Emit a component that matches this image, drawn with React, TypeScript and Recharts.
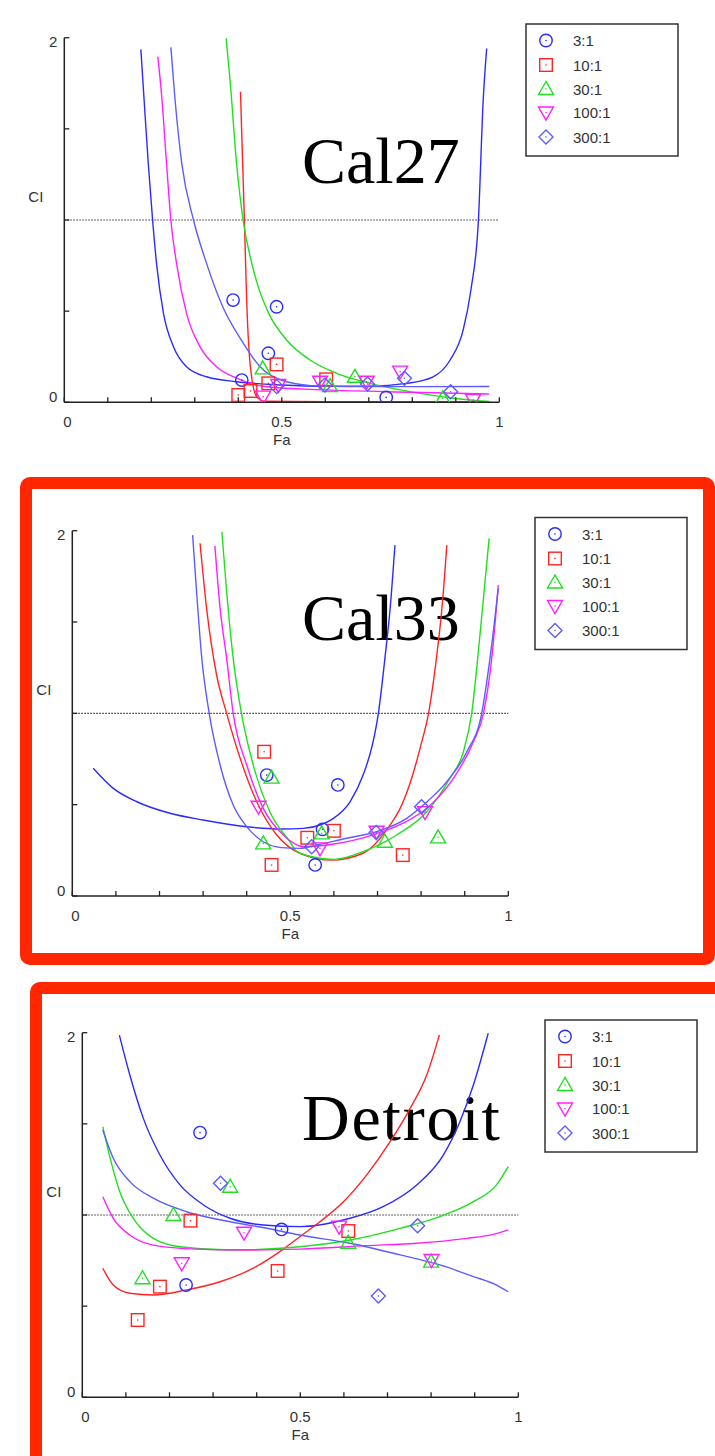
import React from 'react';
import { ComposedChart, Line, Scatter, XAxis, YAxis, ReferenceLine } from 'recharts';

type Pt = { fa: number; ci: number };
const toPts = (a: number[][]): Pt[] => a.map(([fa, ci]) => ({ fa, ci }));

// ---------- legend / series meta ----------
const RATIOS = ['3:1', '10:1', '30:1', '100:1', '300:1'];
const COLORS = ['#2b2bff', '#ff2424', '#1fe01f', '#ff1fff', '#5c5cff'];
const SHAPES = ['circle', 'square', 'triangle', 'triangleDown', 'diamond'];

const X_TICKS = [0, 0.1, 0.2, 0.3, 0.4, 0.5, 0.6, 0.7, 0.8, 0.9, 1];
const X_LABELS = [{ v: 0, t: '0' }, { v: 0.5, t: '0.5' }, { v: 1, t: '1' }];
const Y_TICKS = [0, 0.5, 1, 1.5, 2];
const Y_LABELS = [{ v: 0, t: '0' }, { v: 2, t: '2' }];
const X_TITLE = 'Fa';
const Y_TITLE = 'CI';
const PANEL_NAMES = ['Cal27', 'Cal33', 'Detroit'];

// ---------- Cal27 ----------
const cal27Fit3 = [[0.176,1.936],[0.183,1.676],[0.193,1.311],[0.203,1.0],[0.212,0.762],[0.228,0.488],[0.251,0.305],[0.281,0.195],[0.327,0.14],[0.396,0.113],[0.5,0.095],[0.6,0.088],[0.7,0.089],[0.787,0.104],[0.848,0.14],[0.887,0.232],[0.917,0.397],[0.935,0.62],[0.952,1.0],[0.963,1.658],[0.971,1.941]];
const cal27Fit10 = [[0.405,1.704],[0.41,1.311],[0.414,1.0],[0.419,0.579],[0.427,0.214],[0.442,0.031],[0.46,0.006],[0.6,0.003],[0.977,0.003]];
const cal27Fit30 = [[0.372,1.997],[0.381,1.768],[0.396,1.311],[0.411,1.0],[0.431,0.762],[0.445,0.64],[0.47,0.488],[0.511,0.342],[0.565,0.232],[0.626,0.159],[0.703,0.104],[0.818,0.049],[0.894,0.022],[0.977,0.004]];
const cal27Fit100 = [[0.215,1.896],[0.224,1.676],[0.235,1.311],[0.245,1.0],[0.258,0.762],[0.281,0.488],[0.312,0.305],[0.35,0.195],[0.396,0.132],[0.465,0.085],[0.6,0.068],[0.8,0.055],[0.977,0.045]];
const cal27Fit300 = [[0.245,1.947],[0.254,1.676],[0.27,1.311],[0.297,1.0],[0.327,0.762],[0.365,0.52],[0.41,0.33],[0.45,0.195],[0.511,0.113],[0.588,0.089],[0.7,0.086],[0.8,0.086],[0.977,0.087]];
const cal27Pts3 = [[0.388,0.561],[0.488,0.524],[0.469,0.269],[0.408,0.122],[0.74,0.027]];
const cal27Pts10 = [[0.4,0.04],[0.428,0.062],[0.488,0.208],[0.469,0.104],[0.602,0.126]];
const cal27Pts30 = [[0.456,0.186],[0.611,0.089],[0.668,0.14],[0.87,0.022]];
const cal27Pts100 = [[0.457,0.031],[0.492,0.095],[0.588,0.113],[0.695,0.113],[0.772,0.168],[0.94,0.013]];
const cal27Pts300 = [[0.488,0.086],[0.599,0.095],[0.697,0.1],[0.782,0.132],[0.888,0.058]];

// ---------- Cal33 ----------
const cal33Fit3 = [[0.048,0.699],[0.094,0.589],[0.148,0.516],[0.224,0.453],[0.3,0.416],[0.4,0.379],[0.48,0.367],[0.53,0.37],[0.57,0.39],[0.599,0.425],[0.637,0.516],[0.667,0.662],[0.69,0.845],[0.702,1.0],[0.717,1.301],[0.729,1.575],[0.74,1.921]];
const cal33Fit10 = [[0.293,1.931],[0.308,1.575],[0.331,1.21],[0.354,1.0],[0.385,0.754],[0.423,0.516],[0.469,0.334],[0.522,0.234],[0.595,0.197],[0.667,0.234],[0.729,0.389],[0.75,0.47],[0.775,0.62],[0.8,0.83],[0.817,1.0],[0.835,1.3],[0.848,1.58],[0.859,1.921]];
const cal33Fit30 = [[0.343,1.994],[0.354,1.666],[0.369,1.301],[0.388,1.0],[0.415,0.717],[0.453,0.461],[0.499,0.297],[0.515,0.243],[0.55,0.215],[0.6,0.2],[0.667,0.243],[0.744,0.334],[0.813,0.461],[0.866,0.644],[0.897,0.79],[0.916,1.0],[0.935,1.429],[0.956,1.958]];
const cal33Fit100 = [[0.327,1.917],[0.339,1.575],[0.354,1.301],[0.369,1.0],[0.4,0.717],[0.438,0.48],[0.484,0.334],[0.53,0.27],[0.6,0.285],[0.69,0.335],[0.76,0.4],[0.813,0.48],[0.874,0.644],[0.92,0.845],[0.943,1.0],[0.962,1.301],[0.977,1.702]];
const cal33Fit300 = [[0.276,1.976],[0.285,1.666],[0.297,1.301],[0.314,1.0],[0.339,0.717],[0.369,0.498],[0.4,0.38],[0.438,0.297],[0.48,0.265],[0.522,0.261],[0.553,0.275],[0.629,0.316],[0.698,0.352],[0.767,0.425],[0.805,0.498],[0.859,0.626],[0.905,0.79],[0.939,1.0],[0.958,1.301],[0.977,1.684]];
const cal33Pts3 = [[0.446,0.662],[0.609,0.608],[0.574,0.365],[0.557,0.17]];
const cal33Pts10 = [[0.44,0.79],[0.6,0.357],[0.539,0.319],[0.457,0.17],[0.758,0.224]];
const cal33Pts30 = [[0.457,0.648],[0.438,0.288],[0.572,0.343],[0.717,0.297],[0.839,0.321]];
const cal33Pts100 = [[0.427,0.489],[0.568,0.261],[0.698,0.352],[0.809,0.459]];
const cal33Pts300 = [[0.549,0.27],[0.697,0.348],[0.801,0.489]];

// ---------- Detroit ----------
const detFit3 = [[0.085,1.987],[0.109,1.768],[0.14,1.53],[0.178,1.329],[0.224,1.165],[0.278,1.055],[0.339,0.982],[0.415,0.945],[0.499,0.936],[0.614,0.982],[0.69,1.046],[0.767,1.165],[0.828,1.329],[0.866,1.512],[0.897,1.713],[0.931,1.997]];
const detFit10 = [[0.047,0.708],[0.071,0.616],[0.109,0.571],[0.163,0.561],[0.239,0.589],[0.316,0.634],[0.392,0.708],[0.453,0.799],[0.499,0.881],[0.545,0.963],[0.599,1.073],[0.652,1.219],[0.706,1.402],[0.752,1.585],[0.79,1.768],[0.819,1.987]];
const detFit30 = [[0.047,1.484],[0.064,1.311],[0.086,1.128],[0.117,0.982],[0.163,0.872],[0.224,0.826],[0.339,0.808],[0.499,0.826],[0.614,0.863],[0.729,0.927],[0.82,0.991],[0.897,1.073],[0.95,1.165],[0.977,1.265]];
const detFit100 = [[0.047,1.1],[0.071,0.982],[0.109,0.89],[0.163,0.835],[0.262,0.813],[0.377,0.808],[0.499,0.813],[0.652,0.832],[0.767,0.845],[0.882,0.872],[0.943,0.894],[0.977,0.918]];
const detFit300 = [[0.047,1.466],[0.071,1.311],[0.109,1.183],[0.163,1.092],[0.239,1.018],[0.339,0.963],[0.423,0.927],[0.499,0.89],[0.614,0.845],[0.729,0.781],[0.82,0.726],[0.897,0.662],[0.95,0.616],[0.977,0.579]];
const detPts3 = [[0.27,1.452],[0.457,0.921],[0.238,0.616]];
const detPts10 = [[0.248,0.969],[0.61,0.912],[0.448,0.693],[0.178,0.607],[0.127,0.424]];
const detPts30 = [[0.209,1.0],[0.339,1.155],[0.138,0.653],[0.61,0.848],[0.8,0.744]];
const detPts100 = [[0.371,0.903],[0.228,0.735],[0.589,0.936],[0.801,0.753]];
const detPts300 = [[0.317,1.174],[0.769,0.941],[0.679,0.556]];

// ---------- styling ----------
const AXIS = '#222';
const TXT = '#333';
const SANS = '"Liberation Sans", Arial, sans-serif';
const SERIF = '"Liberation Serif", "Times New Roman", serif';
const FS = 15;
const PAGE_W = 715;
const PAGE_H = 1456;
const RED = '#ff2600';

type Panel = {
  name: string;
  chartTop: number;
  chartHeight: number;
  plot: { left: number; top: number; right: number; bottom: number };
  nameAt: { x: number; y: number; spacing: number };
  legendAt: { left: number; top: number };
  fits: number[][][];
  pts: number[][][];
};

const PANELS: Panel[] = [
  {
    name: PANEL_NAMES[0], chartTop: 0, chartHeight: 470,
    plot: { left: 64.3, top: 37.7, right: 499.3, bottom: 402.3 },
    nameAt: { x: 302, y: 183, spacing: 0 }, legendAt: { left: 526, top: 24 },
    fits: [cal27Fit3, cal27Fit10, cal27Fit30, cal27Fit100, cal27Fit300],
    pts: [cal27Pts3, cal27Pts10, cal27Pts30, cal27Pts100, cal27Pts300],
  },
  {
    name: PANEL_NAMES[1], chartTop: 475, chartHeight: 490,
    plot: { left: 72.3, top: 530.7, right: 508.3, bottom: 896 },
    nameAt: { x: 302, y: 640, spacing: 0 }, legendAt: { left: 535, top: 517.5 },
    fits: [cal33Fit3, cal33Fit10, cal33Fit30, cal33Fit100, cal33Fit300],
    pts: [cal33Pts3, cal33Pts10, cal33Pts30, cal33Pts100, cal33Pts300],
  },
  {
    name: PANEL_NAMES[2], chartTop: 985, chartHeight: 471,
    plot: { left: 82.3, top: 1032.7, right: 518.3, bottom: 1397.3 },
    nameAt: { x: 302, y: 1140, spacing: 1.8 }, legendAt: { left: 545, top: 1020 },
    fits: [detFit3, detFit10, detFit30, detFit100, detFit300],
    pts: [detPts3, detPts10, detPts30, detPts100, detPts300],
  },
];

// ---------- markers ----------
function Marker({ kind, cx, cy, color }: { kind: string; cx: number; cy: number; color: string }) {
  const sw = 1.4;
  const dot = <circle cx={cx} cy={cy} r={0.8} fill={color} />;
  let body: React.ReactNode = null;
  if (kind === 'circle') body = <circle cx={cx} cy={cy} r={6.2} fill="none" stroke={color} strokeWidth={sw} />;
  else if (kind === 'square') body = <rect x={cx - 6.3} y={cy - 6.3} width={12.6} height={12.6} fill="none" stroke={color} strokeWidth={sw} />;
  else if (kind === 'triangle') body = <polygon points={`${cx},${cy - 7.5} ${cx - 7.5},${cy + 5.5} ${cx + 7.5},${cy + 5.5}`} fill="none" stroke={color} strokeWidth={sw} />;
  else if (kind === 'triangleDown') body = <polygon points={`${cx - 7.5},${cy - 5.5} ${cx + 7.5},${cy - 5.5} ${cx},${cy + 7.5}`} fill="none" stroke={color} strokeWidth={sw} />;
  else body = <polygon points={`${cx},${cy - 7} ${cx + 7},${cy} ${cx},${cy + 7} ${cx - 7},${cy}`} fill="none" stroke={color} strokeWidth={sw} />;
  return <g>{body}{dot}</g>;
}

const XTick = (props: any) => {
  const { x, y, payload } = props;
  const lab = X_LABELS.find((l) => Math.abs(l.v - payload.value) < 1e-9);
  return (
    <g>
      <line x1={x} y1={y} x2={x} y2={y - 5} stroke={AXIS} strokeWidth={1.3} />
      {lab && (
        <text x={x + (lab.v === 0 ? 3 : 0)} y={y + 24.5} textAnchor="middle" fontSize={FS} fill={TXT} fontFamily={SANS}>
          {lab.t}
        </text>
      )}
    </g>
  );
};

const YTick = (props: any) => {
  const { x, y, payload } = props;
  const lab = Y_LABELS.find((l) => Math.abs(l.v - payload.value) < 1e-9);
  return (
    <g>
      <line x1={x} y1={y} x2={x + 5} y2={y} stroke={AXIS} strokeWidth={1.3} />
      {lab && (
        <text x={x - 7} y={lab.v === 0 ? y : y + 9} textAnchor="end" fontSize={FS} fill={TXT} fontFamily={SANS}>
          {lab.t}
        </text>
      )}
    </g>
  );
};

function PanelChart({ p }: { p: Panel }) {
  const yW = 10;
  const xH = 10;
  const margin = {
    top: p.plot.top - p.chartTop,
    left: p.plot.left - yW,
    right: PAGE_W - p.plot.right,
    bottom: p.chartTop + p.chartHeight - p.plot.bottom - xH,
  };
  const cx = (p.plot.left + p.plot.right) / 2;
  const xTitleY = p.plot.bottom + 42.5 - p.chartTop;
  const yTitleX = p.plot.left - 28.5;
  const yTitleY = p.plot.top + 164.5 - p.chartTop;
  return (
    <div style={{ position: 'absolute', left: 0, top: p.chartTop, width: PAGE_W, height: p.chartHeight }}>
      <ComposedChart width={PAGE_W} height={p.chartHeight} margin={margin}>
        <XAxis
          type="number" dataKey="fa" domain={[0, 1]} ticks={X_TICKS} interval={0} allowDataOverflow
          tickSize={0} tickMargin={0} tickLine={false} height={xH}
          axisLine={{ stroke: AXIS, strokeWidth: 1.5 }}
          tick={(tp: any) => <XTick {...tp} />}
          label={() => (
            <text x={cx} y={xTitleY} textAnchor="middle" fontSize={FS} fill={TXT} fontFamily={SANS}>{X_TITLE}</text>
          )}
        />
        <YAxis
          type="number" dataKey="ci" domain={[0, 2]} ticks={Y_TICKS} interval={0} allowDataOverflow
          tickSize={0} tickMargin={0} tickLine={false} width={yW}
          axisLine={{ stroke: AXIS, strokeWidth: 1.5 }}
          tick={(tp: any) => <YTick {...tp} />}
          label={() => (
            <text x={yTitleX} y={yTitleY} textAnchor="middle" fontSize={FS} fill={TXT} fontFamily={SANS}>{Y_TITLE}</text>
          )}
        />
        <ReferenceLine y={1} stroke="#333" strokeWidth={1.2} strokeDasharray="1.5 1.5" />
        {p.fits.map((f, i) => (
          <Line
            key={`fit-${i}`} data={toPts(f)} dataKey="ci" type="monotone" stroke={COLORS[i]} strokeWidth={1.4}
            dot={false} activeDot={false} isAnimationActive={false} legendType="none"
          />
        ))}
        {p.pts.map((s, i) => (
          <Scatter
            key={`pts-${i}`} data={toPts(s)} dataKey="ci" isAnimationActive={false} legendType="none"
            shape={(sp: any) => <Marker kind={SHAPES[i]} cx={sp.cx} cy={sp.cy} color={COLORS[i]} />}
          />
        ))}
      </ComposedChart>
    </div>
  );
}

const LEGEND_ROWS = [16.5, 41, 65, 88.5, 113];

function LegendBox({ left, top }: { left: number; top: number }) {
  return (
    <g>
      <rect x={left} y={top} width={152} height={132} fill="#fff" stroke="#333" strokeWidth={1.5} />
      {RATIOS.map((r, i) => (
        <g key={r}>
          <Marker kind={SHAPES[i]} cx={left + 20} cy={top + LEGEND_ROWS[i]} color={COLORS[i]} />
          <text x={left + 47} y={top + LEGEND_ROWS[i] + 5.5} fontSize={FS} fill={TXT} fontFamily={SANS}>{r}</text>
        </g>
      ))}
    </g>
  );
}

export default function App() {
  return (
    <div style={{ position: 'absolute', left: 0, top: 0, width: PAGE_W, height: PAGE_H, overflow: 'hidden', background: '#fff' }}>
      <svg width={PAGE_W} height={PAGE_H} style={{ position: 'absolute', left: 0, top: 0 }}>
        {PANELS.map((p) => (
          <g key={p.name}>
            <text x={p.nameAt.x} y={p.nameAt.y} fontSize={66} fontFamily={SERIF} fill="#000" letterSpacing={p.nameAt.spacing}>
              {p.name}
            </text>
            <LegendBox left={p.legendAt.left} top={p.legendAt.top} />
          </g>
        ))}
      </svg>
      {PANELS.map((p) => (
        <PanelChart key={p.name} p={p} />
      ))}
      <div style={{ position: 'absolute', left: 20, top: 477, width: 695, height: 488, boxSizing: 'border-box', border: `12px solid ${RED}`, borderRadius: 10 }} />
      <div style={{ position: 'absolute', left: 30, top: 982, width: 700, height: 500, boxSizing: 'border-box', border: `12px solid ${RED}`, borderRadius: 10 }} />
    </div>
  );
}
